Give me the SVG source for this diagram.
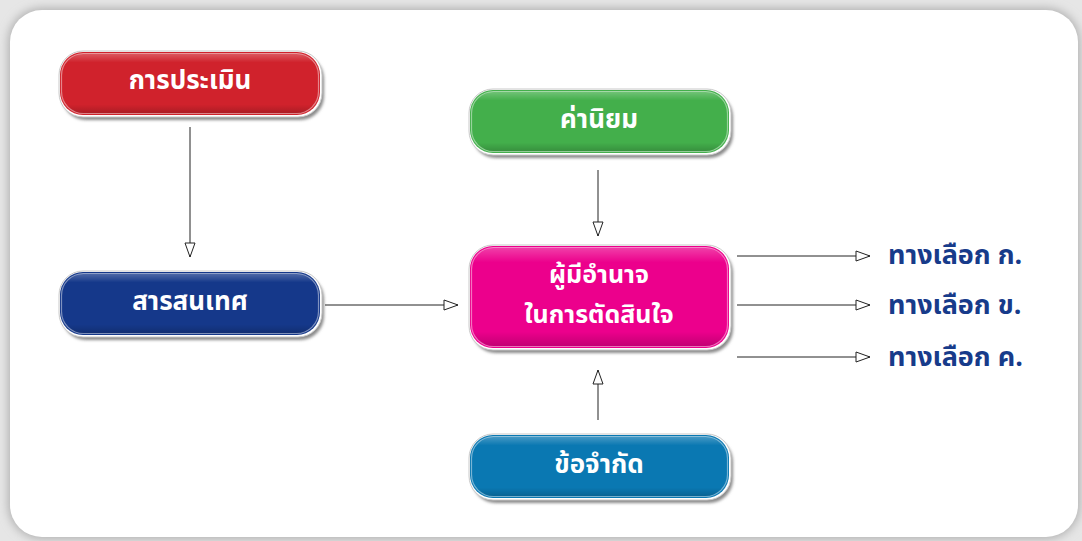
<svg xmlns="http://www.w3.org/2000/svg" width="1082" height="541" viewBox="0 0 1082 541">
<defs>
<filter id="blur" x="-10%" y="-10%" width="120%" height="120%"><feGaussianBlur stdDeviation="5"/></filter>
<filter id="nsh" x="-10%" y="-20%" width="120%" height="140%"><feGaussianBlur stdDeviation="1.5"/></filter>
<linearGradient id="gloss" x1="0" y1="0" x2="0" y2="1">
<stop offset="0" stop-color="#fff" stop-opacity="0.25"/>
<stop offset="0.15" stop-color="#fff" stop-opacity="0"/>
<stop offset="0.85" stop-color="#000" stop-opacity="0"/>
<stop offset="1" stop-color="#000" stop-opacity="0.18"/>
</linearGradient>
<marker id="arr" viewBox="0 0 16 12" refX="15" refY="6" markerWidth="16" markerHeight="12" markerUnits="userSpaceOnUse" orient="auto">
<path d="M1,1 L15,6 L1,11 Z" fill="#fff" stroke="#222" stroke-width="1"/>
</marker>
</defs>
<style>
.sh{fill:#8a8a8a;filter:url(#nsh)}
.edge{fill:#fff;stroke:#c8c8c8;stroke-width:1}
.gl{fill:url(#gloss);stroke:#fff;stroke-opacity:0.45;stroke-width:1.2}
.lbl{font-family:"Noto Sans Thai","Noto Sans",sans-serif;font-weight:bold;font-size:26px;fill:#fff;text-anchor:middle;dominant-baseline:central}
.opt{font-family:"Noto Sans Thai","Noto Sans",sans-serif;font-weight:bold;font-size:27px;fill:#173b8a;dominant-baseline:central}
.c{stroke:#222;stroke-width:1;fill:none;marker-end:url(#arr)}
</style>
<rect width="1082" height="541" fill="#e6e6e6"/>
<rect x="8" y="8" width="1072" height="531" rx="34" fill="#b0b0b0" filter="url(#blur)"/>
<rect x="10" y="10" width="1068" height="527" rx="32" fill="#fff"/>

<g id="n-eval">
<rect class="sh" x="62" y="55" width="262" height="65" rx="24"/>
<rect class="edge" x="59" y="51" width="263" height="66" rx="24"/>
<rect x="60" y="52" width="260" height="63" rx="23" fill="#d0222c"/>
<rect class="gl" x="61.5" y="53.5" width="257" height="60" rx="22"/>
<text class="lbl" x="190" y="81">การประเมิน</text>
</g>

<g id="n-info">
<rect class="sh" x="62" y="275" width="262" height="65" rx="24"/>
<rect class="edge" x="59" y="271" width="263" height="66" rx="24"/>
<rect x="60" y="272" width="260" height="63" rx="23" fill="#15388a"/>
<rect class="gl" x="61.5" y="273.5" width="257" height="60" rx="22"/>
<text class="lbl" x="190" y="302">สารสนเทศ</text>
</g>

<g id="n-value">
<rect class="sh" x="472" y="93" width="261" height="65" rx="24"/>
<rect class="edge" x="469" y="89" width="262" height="66" rx="24"/>
<rect x="470" y="90" width="259" height="63" rx="23" fill="#43af4b"/>
<rect class="gl" x="471.5" y="91.5" width="256" height="60" rx="22"/>
<text class="lbl" x="599" y="120">ค่านิยม</text>
</g>

<g id="n-decider">
<rect class="sh" x="472" y="249" width="261" height="104" rx="24"/>
<rect class="edge" x="469" y="245" width="262" height="105" rx="24"/>
<rect x="470" y="246" width="259" height="102" rx="23" fill="#ec008c"/>
<rect class="gl" x="471.5" y="247.5" width="256" height="99" rx="22"/>
<text class="lbl" x="599" y="275" style="font-size:25px">ผู้มีอำนาจ</text>
<text class="lbl" x="599" y="315" style="font-size:25px">ในการตัดสินใจ</text>
</g>

<g id="n-limit">
<rect class="sh" x="472" y="438" width="261" height="65" rx="24"/>
<rect class="edge" x="469" y="434" width="262" height="66" rx="24"/>
<rect x="470" y="435" width="259" height="63" rx="23" fill="#0a78b2"/>
<rect class="gl" x="471.5" y="436.5" width="256" height="60" rx="22"/>
<text class="lbl" x="599" y="465">ข้อจำกัด</text>
</g>

<g id="connectors">
<line class="c" x1="190" y1="127" x2="190" y2="257"/>
<line class="c" x1="325" y1="305" x2="458" y2="305"/>
<line class="c" x1="598" y1="170" x2="598" y2="236"/>
<line class="c" x1="598" y1="420" x2="598" y2="370"/>
<line class="c" x1="737" y1="256" x2="870" y2="256"/>
<line class="c" x1="737" y1="305" x2="870" y2="305"/>
<line class="c" x1="737" y1="357" x2="870" y2="357"/>
</g>

<g id="options">
<text class="opt" x="888" y="255">ทางเลือก ก.</text>
<text class="opt" x="888" y="305">ทางเลือก ข.</text>
<text class="opt" x="888" y="357">ทางเลือก ค.</text>
</g>
</svg>
